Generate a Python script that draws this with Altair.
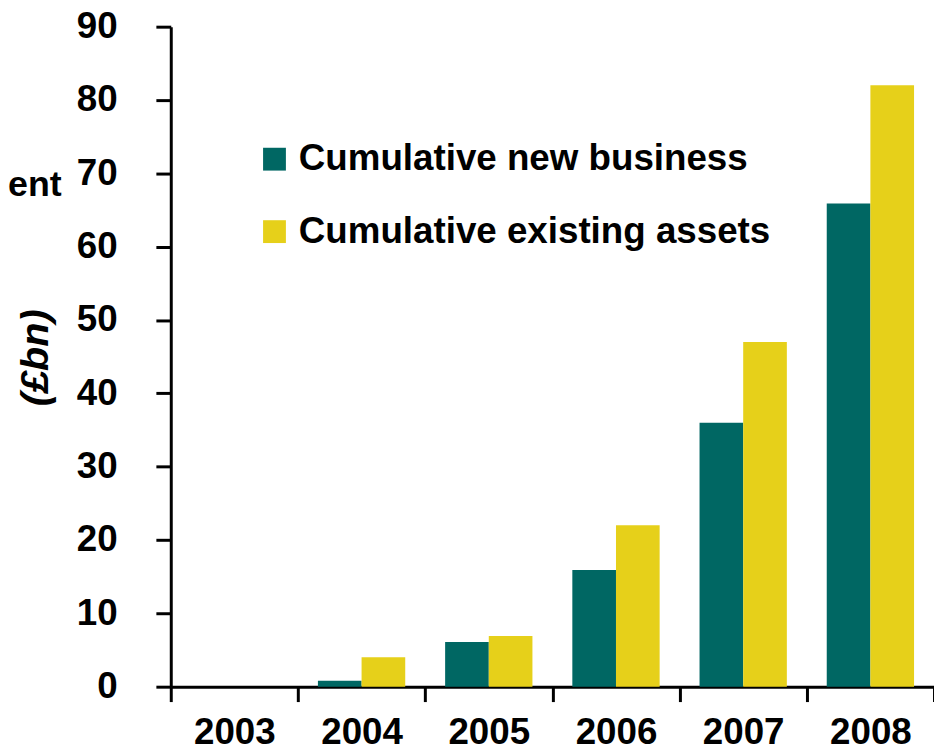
import altair as alt
import pandas as pd

years = ["2003", "2004", "2005", "2006", "2007", "2008"]
new_business = [0, 0.8, 6.1, 15.9, 36.0, 65.9]
existing_assets = [0, 4.0, 6.9, 22.0, 47.0, 82.0]
series_names = ["Cumulative new business", "Cumulative existing assets"]
colors = ["#006763", "#E6D01A"]
y_ticks = [0, 10, 20, 30, 40, 50, 60, 70, 80, 90]

rows = []
for i, yr in enumerate(years):
    rows.append({"year": yr, "series": series_names[0], "value": new_business[i]})
    rows.append({"year": yr, "series": series_names[1], "value": existing_assets[i]})
df = pd.DataFrame(rows)

FONT = "Liberation Sans"

bars = alt.Chart(df).mark_bar().encode(
    x=alt.X("year:N", sort=years,
            scale=alt.Scale(paddingInner=0, paddingOuter=0),
            axis=alt.Axis(title=None, labelAngle=0, tickBand="extent",
                          labelFontSize=37, labelFont=FONT, labelFontWeight="bold",
                          labelColor="black", labelPadding=13,
                          tickSize=15, tickWidth=3, tickColor="black",
                          domainWidth=3, domainColor="black", grid=False)),
    xOffset=alt.XOffset("series:N", sort=series_names,
                        scale=alt.Scale(paddingInner=0, paddingOuter=0.457)),
    y=alt.Y("value:Q", scale=alt.Scale(domain=[0, 90], nice=False),
            axis=alt.Axis(values=y_ticks, grid=False,
                          title="(£bn)", titleFont=FONT, titleFontSize=40,
                          titleFontWeight="bold", titleFontStyle="italic",
                          titleColor="black", titleAngle=270,
                          titleX=-136, titleY=333, titleAlign="center",
                          titleBaseline="middle",
                          labelFontSize=37, labelFont=FONT, labelFontWeight="bold",
                          labelColor="black", labelPadding=39,
                          tickSize=15, tickWidth=3, tickColor="black",
                          domainWidth=3, domainColor="black")),
    color=alt.Color("series:N", sort=series_names,
                    scale=alt.Scale(domain=series_names, range=colors),
                    legend=alt.Legend(title=None, orient="none",
                                      legendX=86, legendY=115,
                                      symbolType="square", symbolSize=529,
                                      symbolStrokeWidth=0,
                                      labelFont=FONT, labelFontSize=37,
                                      labelFontWeight="bold", labelColor="black",
                                      labelOffset=6, rowPadding=35,
                                      padding=0, labelLimit=600)),
)

frag = alt.Chart(pd.DataFrame({"t": ["ent"]})).mark_text(
    font=FONT, fontSize=36, fontWeight="bold", color="black",
    align="right", baseline="alphabetic"
).encode(text="t:N", x=alt.value(-110), y=alt.value(171))

chart = alt.layer(bars, frag).properties(
    width=769, height=665,
    autosize=alt.AutoSizeParams(type="none"),
    padding={"left": 164, "top": 16, "right": 0, "bottom": 65},
    background="white",
).configure_view(stroke=None)

chart.save("out.html", embed_options={"renderer": "svg", "actions": False})
